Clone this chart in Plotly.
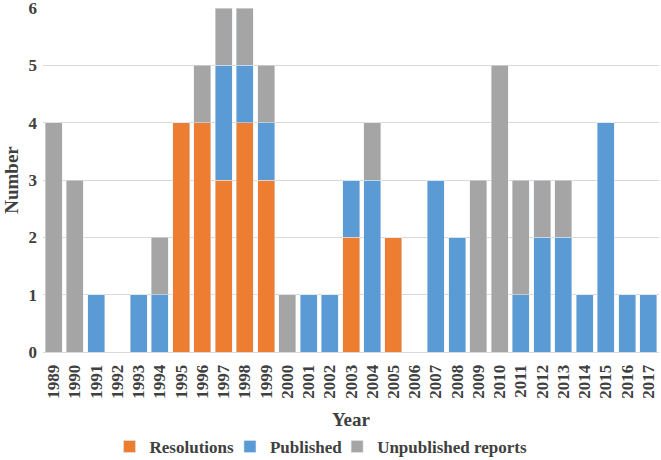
import plotly.graph_objects as go

years = [str(y) for y in range(1989, 2018)]
resolutions = [0,0,0,0,0,0,4,4,3,4,3,0,0,0,2,0,2,0,0,0,0,0,0,0,0,0,0,0,0]
published   = [0,0,1,0,1,1,0,0,2,1,1,0,1,1,1,3,0,0,3,2,0,0,1,2,2,1,4,1,1]
unpublished = [4,3,0,0,0,1,0,1,1,1,1,1,0,0,0,1,0,0,0,0,3,5,2,1,1,0,0,0,0]

font = "Liberation Serif"
txt = "#404040"
fig = go.Figure()
fig.add_bar(x=years, y=resolutions, name="<b>Resolutions</b>", marker_color="#ED7D31",
            legend="legend", showlegend=True)
fig.add_bar(x=years, y=published, name="<b>Published</b>", marker_color="#5B9BD5",
            legend="legend2", showlegend=True)
fig.add_bar(x=years, y=unpublished, name="<b>Unpublished reports</b>", marker_color="#A5A5A5",
            legend="legend3", showlegend=True)

leg_common = dict(orientation="h", y=-0.276, yanchor="middle", xanchor="left",
                  font=dict(family=font, size=17, color=txt), itemwidth=30,
                  bgcolor="rgba(0,0,0,0)", visible=True)

fig.update_layout(
    showlegend=True,
    barmode="stack", bargap=0.2,
    width=661, height=460,
    margin=dict(l=43, r=2, t=8, b=108, autoexpand=False),
    plot_bgcolor="white", paper_bgcolor="white",
    font=dict(family=font, color=txt),
    legend=dict(x=0.108, **leg_common),
    legend2=dict(x=0.3035, **leg_common),
    legend3=dict(x=0.4775, **leg_common),
    xaxis=dict(tickangle=-90, tickfont=dict(family=font, size=17, color=txt),
               title=dict(text="<b>Year</b>", font=dict(family=font, size=19, color=txt), standoff=14),
               showline=True, linecolor="#D9D9D9", linewidth=1, ticks="", automargin=False,
               ticklabelstandoff=5, ticklabeloverflow="allow"),
    yaxis=dict(range=[0, 6], dtick=1, showgrid=True, gridcolor="#D9D9D9",
               tickfont=dict(family=font, size=17, color=txt),
               title=dict(text="<b>Number</b>", font=dict(family=font, size=19, color=txt), standoff=4),
               zeroline=False, ticks="", automargin=False, ticklabeloverflow="allow",
               ticklabelstandoff=5),
)
fig.update_xaxes(tickprefix="<b>", ticksuffix="</b>")
fig.update_yaxes(tickprefix="<b>", ticksuffix="</b>")
fig.write_html("out.html", config={"displayModeBar": False},
               post_script="document.body.style.margin='0';")
